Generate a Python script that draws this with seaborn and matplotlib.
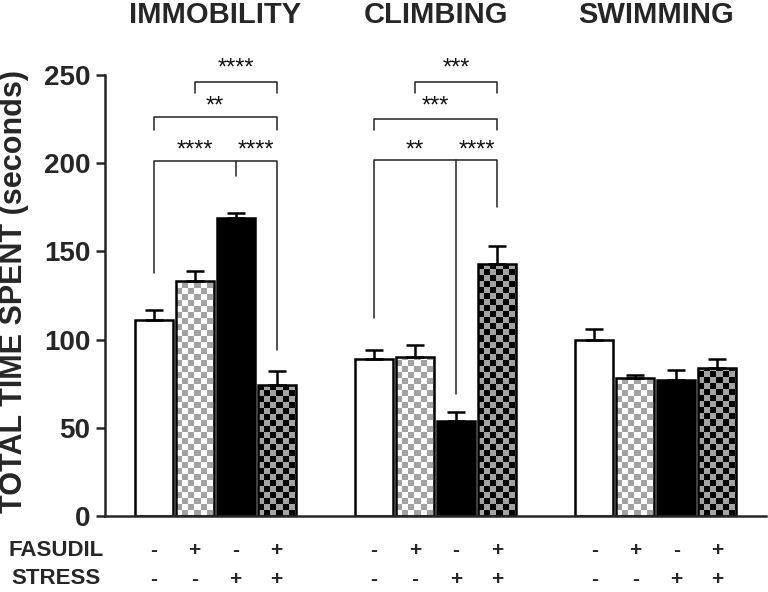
import numpy as np
import pandas as pd
import matplotlib
matplotlib.use("Agg")
import matplotlib.pyplot as plt
import seaborn as sns
from matplotlib.colors import ListedColormap

# data (seconds)
tests = ["IMMOBILITY", "CLIMBING", "SWIMMING"]
groups = ["Vehicle", "Fasudil", "Stress", "Fasudil+Stress"]
immobility_mean = [111, 133, 169, 74]
immobility_sem = [6, 6, 3, 8]
climbing_mean = [89, 90, 54, 143]
climbing_sem = [5, 7, 5, 10]
swimming_mean = [100, 78, 77, 84]
swimming_sem = [6, 2, 6, 5]
fasudil_signs = ["-", "+", "-", "+"]
stress_signs = ["-", "-", "+", "+"]
y_ticks = [0, 50, 100, 150, 200, 250]

# significance brackets: (bar a, bar b, line y, left leg end, right leg end, middle bar, middle end)
brackets = [
    (1, 3, 246, 240, 240, None, None),
    (0, 3, 226, 219, 219, None, None),
    (0, 3, 201, 138, 94, 2, 193),
    (5, 7, 246, 240, 240, None, None),
    (4, 7, 225, 219, 219, None, None),
    (4, 7, 202, 112, 175, 6, 69),
]
# star labels: (bar a, bar b, baseline y, text)
stars = [
    (1, 3, 250, "****"), (0, 3, 228.5, "**"),
    (0, 2, 204, "****"), (2, 3, 204, "****"),
    (5, 7, 250, "***"), (4, 7, 228.5, "***"),
    (4, 6, 204, "**"), (6, 7, 204, "****"),
]

df = pd.DataFrame({
    "test": np.repeat(tests, len(groups)),
    "group": groups * len(tests),
    "value": immobility_mean + climbing_mean + swimming_mean,
})
sems = immobility_sem + climbing_sem + swimming_sem

sns.set_style("ticks")
plt.rcParams["font.family"] = ["Liberation Sans", "DejaVu Sans"]

fig = plt.figure(figsize=(7.68, 5.92), dpi=100)
ax = fig.add_axes([0.1367, 0.1284, 0.8607, 0.745])

palette = {"Vehicle": "white", "Fasudil": "white", "Stress": "black", "Fasudil+Stress": "black"}
sns.barplot(data=df, x="test", y="value", hue="group", hue_order=groups, order=tests,
            palette=palette, errorbar=None, width=0.745, gap=0.07, legend=False,
            edgecolor="black", linewidth=1.8, ax=ax)

ax.set_xlim(-0.5, 2.5)
ax.set_ylim(0, 250)
ax.set_yticks(y_ticks)

bars = sorted(ax.patches, key=lambda p: p.get_x())
xs = [p.get_x() + p.get_width() / 2 for p in bars]
for p in bars:
    p.set_zorder(2)

fig.canvas.draw()


def checker(patch, c1, c2, cell_px=6.0):
    x0, y0 = patch.get_x(), patch.get_y()
    w, h = patch.get_width(), patch.get_height()
    inv = ax.transData.inverted()
    o = ax.transData.transform((x0, y0))
    cx = inv.transform((o[0] + cell_px, o[1]))[0] - x0
    cy = inv.transform((o[0], o[1] + cell_px))[1] - y0
    nx = int(np.ceil(w / cx)) + 1
    ny = int(np.ceil(h / cy)) + 1
    grid = np.add.outer(np.arange(ny), np.arange(nx)) % 2
    im = ax.imshow(grid, cmap=ListedColormap([c1, c2]), origin="lower",
                   extent=(x0, x0 + nx * cx, y0, y0 + ny * cy),
                   aspect="auto", interpolation="nearest", zorder=1.5)
    im.set_clip_path(patch)
    patch.set_facecolor("none")


for i, p in enumerate(bars):
    if i % 4 == 1:
        checker(p, "white", "#a3a3a3")
    elif i % 4 == 3:
        checker(p, "#a3a3a3", "black")

ax.set_xlim(-0.5, 2.5)
ax.set_ylim(0, 250)

ax.errorbar(xs, df["value"], yerr=[np.zeros(len(sems)), sems], fmt="none",
            ecolor="black", elinewidth=1.8, capsize=6.5, capthick=1.8, zorder=3)

# brackets
lw = 1.1
for a, b, y, la, lb, m, me in brackets:
    ax.plot([xs[a], xs[a], xs[b], xs[b]], [la, y, y, lb], color="#222222",
            lw=lw, clip_on=False, zorder=4)
    if m is not None:
        ax.plot([xs[m], xs[m]], [y, me], color="#222222", lw=lw, clip_on=False, zorder=4)
for a, b, y, t in stars:
    ax.text((xs[a] + xs[b]) / 2, y, t, ha="center", va="baseline",
            fontsize=17, color="#111111", clip_on=False)

# titles above each group
for i, t in enumerate(tests):
    ax.text(i, 1.118, t, transform=ax.get_xaxis_transform(), ha="center", va="baseline",
            fontsize=21, fontweight="bold")

# treatment rows
trans = ax.get_xaxis_transform()
for k, x in enumerate(xs):
    ax.text(x, -0.079, fasudil_signs[k % 4], transform=trans, ha="center", va="center",
            fontsize=15, fontweight="bold")
    ax.text(x, -0.143, stress_signs[k % 4], transform=trans, ha="center", va="center",
            fontsize=15, fontweight="bold")
fig.text(56 / 768, 1 - 551 / 592, "FASUDIL", ha="center", va="center",
         fontsize=16, fontweight="bold")
fig.text(56 / 768, 1 - 579 / 592, "STRESS", ha="center", va="center",
         fontsize=16, fontweight="bold")

ax.set_xlabel("")
ax.set_xticks([])
ax.set_ylabel("TOTAL TIME SPENT (seconds)", fontsize=22, fontweight="bold")
ax.yaxis.label.set_va("center")
ax.yaxis.set_label_coords(-0.137, 0.51)
for lab in ax.get_yticklabels():
    lab.set_fontweight("bold")
ax.tick_params(axis="y", labelsize=20, length=6.5, width=1.8, pad=4)
sns.despine(ax=ax)
for s in ("left", "bottom"):
    ax.spines[s].set_linewidth(1.8)

plt.savefig("out.png", dpi=100)
